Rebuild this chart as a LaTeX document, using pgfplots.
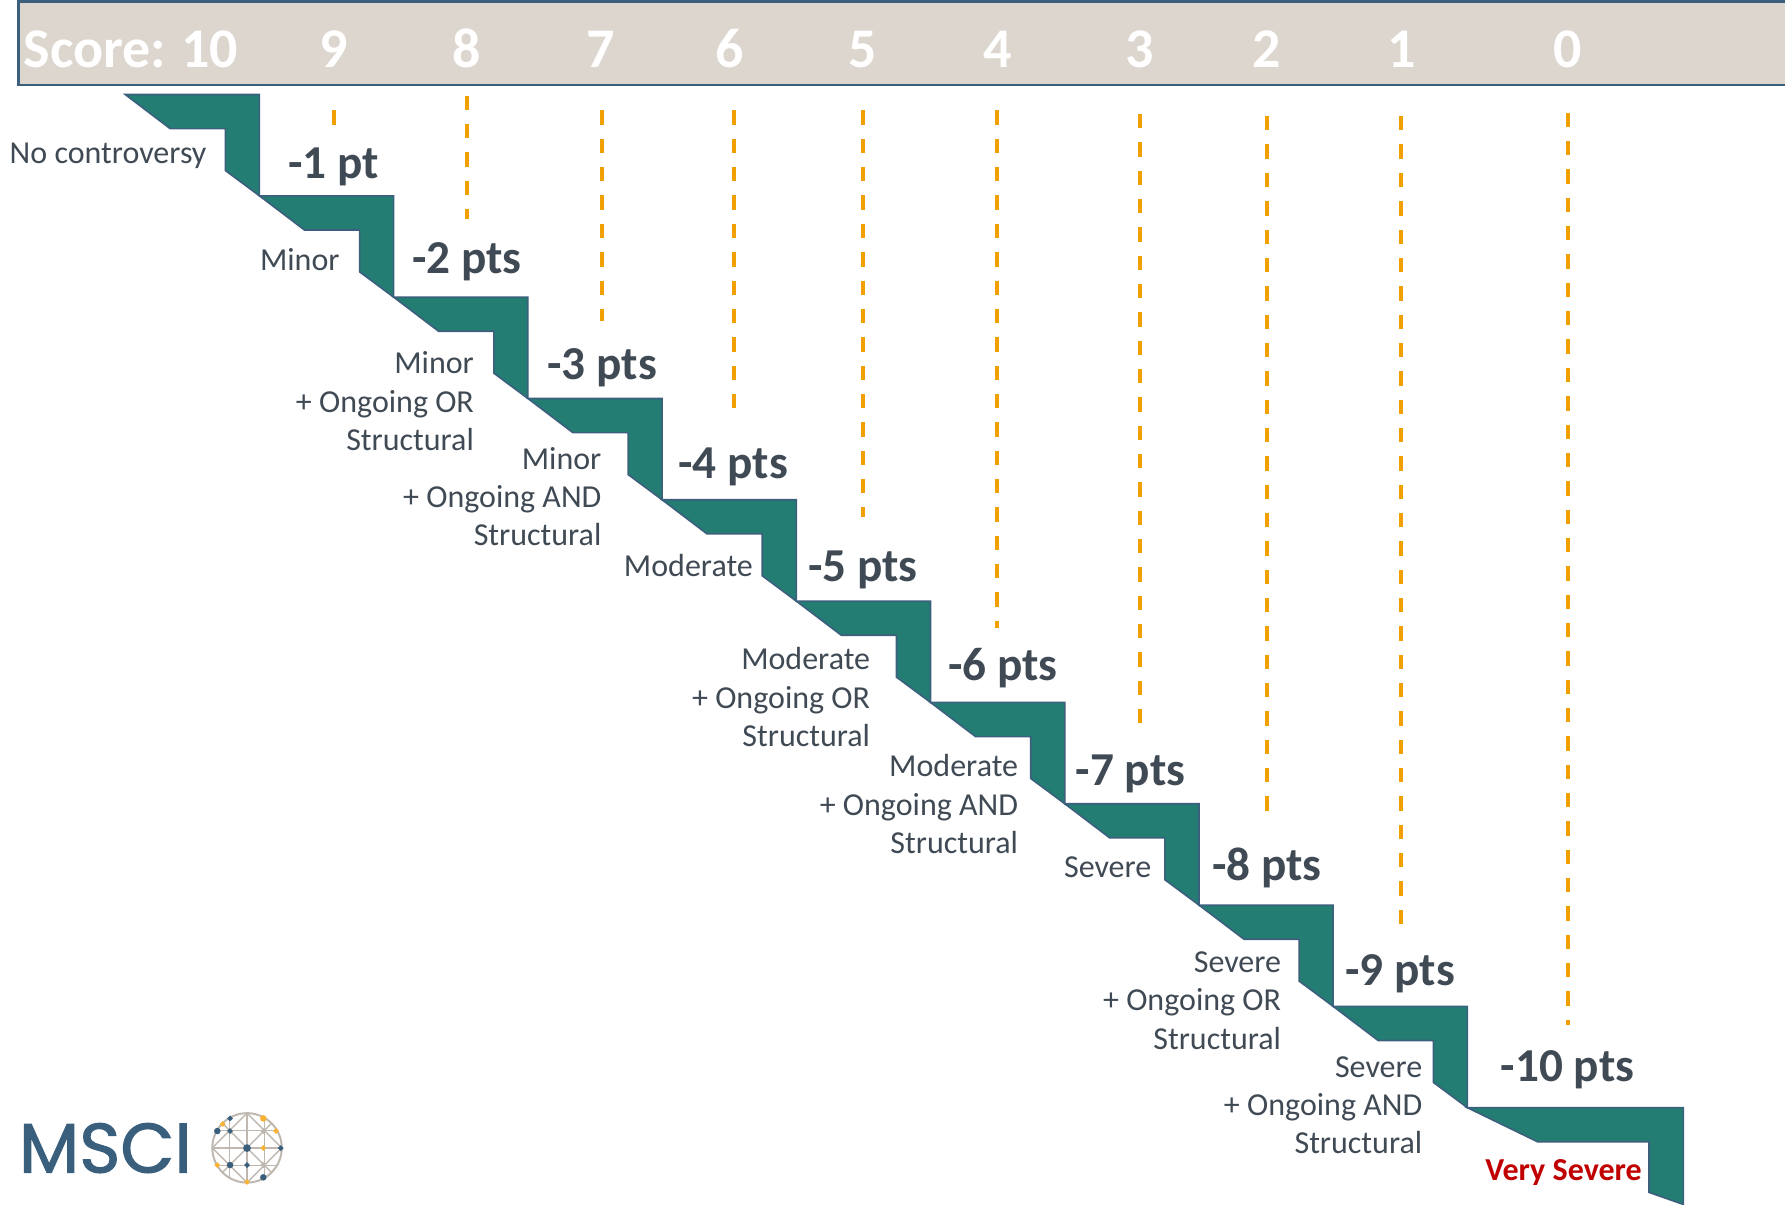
\documentclass[border=0pt]{standalone}
\usepackage{fontspec}
\setmainfont{Carlito}
\newfontfamily\logofont{Poppins}[FakeBold=1.5]
\usepackage{pgfplots}
\pgfplotsset{compat=1.18}

\definecolor{stepfill}{RGB}{35,125,115}
\definecolor{stepedge}{RGB}{60,95,125}
\definecolor{barfill}{RGB}{220,214,207}
\definecolor{baredge}{RGB}{58,96,125}
\definecolor{dashc}{RGB}{240,160,0}
\definecolor{txt}{RGB}{64,74,84}
\definecolor{vsred}{RGB}{192,0,0}
\definecolor{navy}{RGB}{58,95,125}
\definecolor{gold}{RGB}{249,178,51}
\definecolor{globe}{RGB}{190,184,176}

\pgfplotsset{
  step/.style={fill=stepfill, draw=stepedge, line width=0.4pt, mark=none},
  guide/.style={dashc, line width=1pt, dash pattern=on 1.26mm off 1.23mm, mark=none},
  grid/.style={globe, line width=0.35pt, mark=none},
}
% category text (right aligned, baseline) and point text (centred, baseline)
\newcommand{\cat}[3]{\node[anchor=base east, inner sep=0pt, text=txt,
  font=\fontsize{8}{9.6}\selectfont] at (axis cs:#1,#2) {#3};}
\newcommand{\pts}[3]{\node[anchor=base, inner sep=0pt, text=txt,
  font=\fontsize{11.8}{14}\selectfont\bfseries] at (axis cs:#1,#2) {#3};}
\newcommand{\score}[2]{\node[anchor=base, inner sep=0pt, text=white,
  font=\fontsize{14}{16}\selectfont\bfseries] at (axis cs:#1,59) {#2};}

\begin{document}
\begin{tikzpicture}
\begin{axis}[
    scale only axis,
    width=156.8mm, height=105.8mm,
    xmin=0, xmax=1568, ymin=0, ymax=1058,
    y dir=reverse,
    hide axis,
    clip=false,
    ]
    \coordinate (ll) at (axis cs:0,1058);
    \coordinate (ur) at (axis cs:1568,0);

    % score header
    \addplot[fill=barfill, draw=none, mark=none] coordinates {
        (16,1.5) (1568,1.5) (1568,74.7) (16,74.7)} -- cycle;
    \addplot[baredge, line width=0.7pt, mark=none] coordinates {
        (1568,1.5) (16,1.5) (16,74.7) (1568,74.7)};
    \node[anchor=base west, inner sep=0pt, text=white,
      font=\fontsize{14}{16}\selectfont\bfseries] at (axis cs:20,59) {Score:};
    \score{184}{10}
    \score{293}{9}
    \score{410}{8}
    \score{528}{7}
    \score{641}{6}
    \score{758}{5}
    \score{876}{4}
    \score{1001}{3}
    \score{1113}{2}
    \score{1231}{1}
    \score{1377}{0}

    % dashed guides under each score
    \addplot[guide] coordinates {(293,97) (293,110.7)};
    \addplot[guide] coordinates {(410,84) (410,192)};
    \addplot[guide] coordinates {(529,97) (529,282)};
    \addplot[guide] coordinates {(645,97) (645,370)};
    \addplot[guide] coordinates {(758,97) (758,454)};
    \addplot[guide] coordinates {(876,97) (876,552)};
    \addplot[guide] coordinates {(1001,100) (1001,641)};
    \addplot[guide] coordinates {(1113,102) (1113,723)};
    \addplot[guide] coordinates {(1231,102) (1231,816)};
    \addplot[guide] coordinates {(1377,99) (1377,900)};

    % staircase
    \addplot[step] coordinates {(110,83) (227.9,83) (227.9,172) (198,149.8) (198,113) (149.5,113)} -- cycle;
    \addplot[step] coordinates {(227.9,172) (345.8,172) (345.8,261) (315.9,238.8) (315.9,202) (267.4,202)} -- cycle;
    \addplot[step] coordinates {(345.8,261) (463.7,261) (463.7,350) (433.8,327.8) (433.8,291) (385.3,291)} -- cycle;
    \addplot[step] coordinates {(463.7,350) (581.6,350) (581.6,439) (551.7,416.8) (551.7,380) (503.2,380)} -- cycle;
    \addplot[step] coordinates {(581.6,439) (699.5,439) (699.5,528) (669.6,505.8) (669.6,469) (621.1,469)} -- cycle;
    \addplot[step] coordinates {(699.5,528) (817.4,528) (817.4,617) (787.5,594.8) (787.5,558) (739,558)} -- cycle;
    \addplot[step] coordinates {(817.4,617) (935.3,617) (935.3,706) (905.4,683.8) (905.4,647) (856.9,647)} -- cycle;
    \addplot[step] coordinates {(935.3,706) (1053.2,706) (1053.2,795) (1023.3,772.8) (1023.3,736) (974.8,736)} -- cycle;
    \addplot[step] coordinates {(1053.2,795) (1171.1,795) (1171.1,884) (1141.2,861.8) (1141.2,825) (1092.7,825)} -- cycle;
    \addplot[step] coordinates {(1171.1,884) (1289,884) (1289,973) (1259.1,950.8) (1259.1,914) (1210.6,914)} -- cycle;
    \addplot[step] coordinates {(1289,973) (1478.7,973) (1478.7,1058) (1448.5,1047.4) (1448.5,1003) (1350.7,1003)} -- cycle;

    % point deductions
    \pts{293}{157}{-1 pt}
    \pts{410}{240}{-2 pts}
    \pts{529}{333}{-3 pts}
    \pts{644}{420}{-4 pts}
    \pts{758}{511}{-5 pts}
    \pts{881}{598}{-6 pts}
    \pts{993}{690}{-7 pts}
    \pts{1113}{773}{-8 pts}
    \pts{1230}{866}{-9 pts}
    \pts{1377}{950}{-10 pts}

    % controversy categories
    \cat{182}{143.5}{No controversy}
    \cat{299}{237.5}{Minor}
    \cat{417}{328.5}{Minor}
    \cat{417}{362}{+ Ongoing OR}
    \cat{417}{395.5}{Structural}
    \cat{529}{412.5}{Minor}
    \cat{529}{446}{+ Ongoing AND}
    \cat{529}{479.5}{Structural}
    \cat{662}{506.6}{Moderate}
    \cat{765}{588.5}{Moderate}
    \cat{765}{622}{+ Ongoing OR}
    \cat{765}{655.5}{Structural}
    \cat{895}{682.5}{Moderate}
    \cat{895}{716}{+ Ongoing AND}
    \cat{895}{749.5}{Structural}
    \cat{1012}{770.7}{Severe}
    \cat{1126}{854.5}{Severe}
    \cat{1126}{888}{+ Ongoing OR}
    \cat{1126}{921.5}{Structural}
    \cat{1250}{946.5}{Severe}
    \cat{1250}{980}{+ Ongoing AND}
    \cat{1250}{1013.5}{Structural}
    \node[anchor=base, inner sep=0pt, text=vsred,
      font=\fontsize{8}{9.6}\selectfont\bfseries] at (axis cs:1373.5,1036.6) {Very Severe};

    % logo
    \node[anchor=base west, inner sep=0pt, text=navy,
      font=\fontsize{17.5}{20}\logofont] at (axis cs:16,1030) {MSCI};
    \draw[globe, line width=0.5pt] (axis cs:217,1008.3) circle[radius=3.05mm];
    \addplot[grid] coordinates {(201.75,981.9) (201.75,1034.7)};
    \addplot[grid] coordinates {(217,977.8) (217,1038.8)};
    \addplot[grid] coordinates {(232.25,981.9) (232.25,1034.7)};
    \addplot[grid] coordinates {(190.6,993.05) (243.4,993.05)};
    \addplot[grid] coordinates {(186.5,1008.3) (247.5,1008.3)};
    \addplot[grid] coordinates {(190.6,1023.55) (243.4,1023.55)};
    \addplot[grid] coordinates {(217,977.8) (247.5,1008.3) (217,1038.8) (186.5,1008.3) (217,977.8)};
    \addplot[grid] coordinates {(195.4,986.7) (238.6,1029.9)};
    \addplot[grid] coordinates {(238.6,986.7) (195.4,1029.9)};
    \addplot[only marks, mark=*, mark size=0.45pt, globe] coordinates {
        (231.3,993.5) (231.3,1023.4)};
    \addplot[only marks, mark=*, mark size=0.45pt, navy, mark options={draw=navy, fill=navy}] coordinates {
        (202.1,982.4) (202.1,993.5) (246.6,1008.5) (217,1023.4)};
    \addplot[only marks, mark=*, mark size=0.6pt, navy, mark options={draw=navy, fill=navy}] coordinates {
        (190.9,993.5) (202.1,1023.4) (231.3,1034.2)};
    \addplot[only marks, mark=*, mark size=0.75pt, navy, mark options={draw=navy, fill=navy}] coordinates {
        (217,1008.5)};
    \addplot[only marks, mark=*, mark size=0.45pt, gold, mark options={draw=gold, fill=gold}] coordinates {
        (195.6,987.4) (242.5,993.5) (231.3,1008.5) (190.9,1023.4) (217,1038.3)};
    \addplot[only marks, mark=*, mark size=0.6pt, gold, mark options={draw=gold, fill=gold}] coordinates {
        (231.3,982.4)};
\end{axis}
\pgfresetboundingbox
\path[use as bounding box] (ll) rectangle (ur);
\end{tikzpicture}
\end{document}
